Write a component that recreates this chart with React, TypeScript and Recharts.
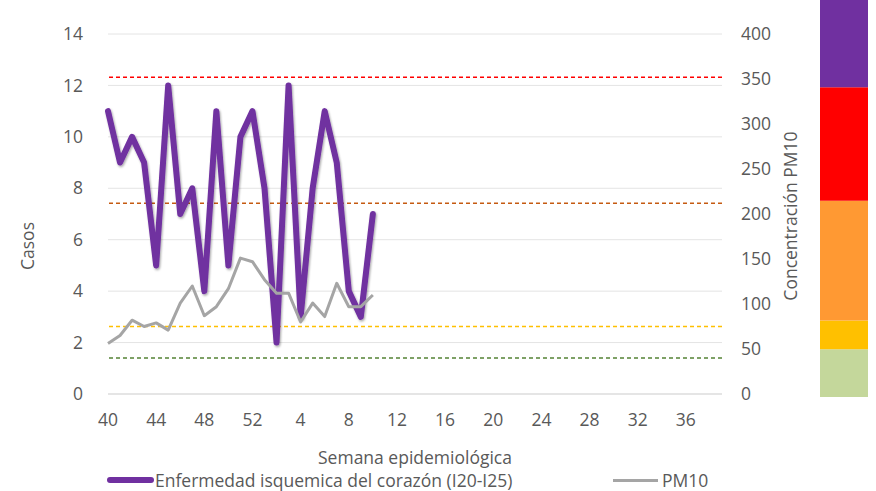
import React from 'react';
import { LineChart, Line, BarChart, Bar, XAxis, YAxis, CartesianGrid, ReferenceLine, Legend } from 'recharts';

// semanas epidemiológicas 40..52 y 1..39
const weeks = [
  '40', '41', '42', '43', '44', '45', '46', '47', '48', '49', '50', '51', '52',
  '1', '2', '3', '4', '5', '6', '7', '8', '9', '10', '11', '12', '13', '14', '15',
  '16', '17', '18', '19', '20', '21', '22', '23', '24', '25', '26', '27', '28', '29',
  '30', '31', '32', '33', '34', '35', '36', '37', '38', '39',
];

// casos por semana (eje izquierdo)
const casos = [11, 9, 10, 9, 5, 12, 7, 8, 4, 11, 5, 10, 11, 8, 2, 12, 3, 8, 11, 9, 4, 3, 7];
// concentración PM10 (eje derecho)
const pm10 = [56, 65, 82, 75, 79, 71, 101, 120, 87, 97, 117, 151, 147, 127, 112, 112, 80, 101, 86, 123, 97, 97, 110];

const leftTicks = [0, 2, 4, 6, 8, 10, 12, 14];
const rightTicks = [0, 50, 100, 150, 200, 250, 300, 350, 400];

// umbrales (eje PM10)
const thresholdValues = [352, 212, 75, 40];
const thresholdColors = ['#FF0000', '#C55A11', '#FFC000', '#548235'];

// barra de colores del índice
const bandKeys = ['buena', 'aceptable', 'sensibles', 'danina', 'muyDanina'];
const bandSizes = [53, 32, 133, 126, 97];
const bandColors = ['#C4D79B', '#FFC000', '#FF9933', '#FF0000', '#7030A0'];

const chartData = weeks.map((w, i) => ({
  week: w,
  casos: i < casos.length ? casos[i] : null,
  pm10: i < pm10.length ? pm10[i] : null,
}));

const bandRow = [
  bandKeys.reduce((row: Record<string, number | string>, k, i) => {
    row[k] = bandSizes[i];
    return row;
  }, { name: 'ICA' }),
];

const TEXT = '#595959';
const FS = 17.5;

const ChartLegend = () => (
  <div style={{ position: 'relative', width: 876, height: 24, fontSize: FS, color: TEXT, lineHeight: '24px' }}>
    <div style={{ position: 'absolute', left: 107, top: 9, width: 47, height: 6, borderRadius: 3, background: '#7030A0' }} />
    <span style={{ position: 'absolute', left: 155, top: 0, whiteSpace: 'nowrap' }}>
      Enfermedad isquemica del corazón (I20-I25)
    </span>
    <div style={{ position: 'absolute', left: 613, top: 11, width: 45, height: 3, background: '#A5A5A5' }} />
    <span style={{ position: 'absolute', left: 662, top: 0, whiteSpace: 'nowrap' }}>PM10</span>
  </div>
);

export default function App() {
  return (
    <div style={{ position: 'absolute', left: 0, top: 0, width: 876, height: 491, background: '#fff', fontFamily: '"Open Sans", sans-serif' }}>
      <LineChart width={876} height={491} data={chartData} margin={{ top: 34, right: 0, bottom: 0, left: 0 }}>
        <defs>
          <filter id="lineShadow" x="-10%" y="-10%" width="120%" height="120%">
            <feDropShadow dx="1" dy="1.5" stdDeviation="1.2" floodColor="#000" floodOpacity="0.35" />
          </filter>
        </defs>
        <CartesianGrid yAxisId="left" vertical={false} stroke="#e4e4e4" />
        <XAxis
          dataKey="week"
          interval={3}
          height={97}
          tickSize={0}
          tickMargin={20}
          axisLine={{ stroke: '#d9d9d9' }}
          tick={{ fill: TEXT, fontSize: FS }}
          label={{ value: 'Semana epidemiológica', position: 'insideTop', offset: 58, fill: TEXT, fontSize: FS }}
        />
        <YAxis
          yAxisId="left"
          width={108}
          domain={[0, 14]}
          ticks={leftTicks}
          axisLine={false}
          tickLine={false}
          tickSize={0}
          tickMargin={25}
          tick={{ fill: TEXT, fontSize: FS }}
          label={() => (
            <text x={27} y={246} transform="rotate(-90 27 246)" textAnchor="middle" dominantBaseline="central" fill={TEXT} fontSize={FS}>
              Casos
            </text>
          )}
        />
        <YAxis
          yAxisId="right"
          orientation="right"
          width={154}
          domain={[0, 400]}
          ticks={rightTicks}
          axisLine={false}
          tickLine={false}
          tickSize={0}
          tickMargin={19}
          tick={{ fill: TEXT, fontSize: FS }}
          label={() => (
            <text x={790} y={216} transform="rotate(-90 790 216)" textAnchor="middle" dominantBaseline="central" fill={TEXT} fontSize={FS}>
              Concentración PM10
            </text>
          )}
        />
        {thresholdValues.map((v, i) => (
          <ReferenceLine key={v} yAxisId="right" y={v} stroke={thresholdColors[i]} strokeWidth={1.5} strokeDasharray="4 3" />
        ))}
        <Line
          yAxisId="left"
          type="linear"
          dataKey="casos"
          stroke="#7030A0"
          strokeWidth={6}
          strokeLinejoin="round"
          strokeLinecap="round"
          dot={false}
          activeDot={false}
          filter="url(#lineShadow)"
          isAnimationActive={false}
        />
        <Line
          yAxisId="right"
          type="linear"
          dataKey="pm10"
          stroke="#A5A5A5"
          strokeWidth={3}
          strokeLinejoin="round"
          dot={false}
          activeDot={false}
          isAnimationActive={false}
        />
        <Legend
          layout="horizontal"
          verticalAlign="middle"
          align="center"
          wrapperStyle={{ left: 0, top: 468, width: 876, height: 24 }}
          content={() => <ChartLegend />}
        />
      </LineChart>
      <div style={{ position: 'absolute', left: 820, top: 0 }}>
        <BarChart width={48} height={397} data={bandRow} margin={{ top: 0, right: 0, bottom: 0, left: 0 }} barCategoryGap={0}>
          <XAxis dataKey="name" hide />
          <YAxis hide domain={[0, 441]} ticks={[0, 441]} />
          {bandKeys.map((k, i) => (
            <Bar key={k} dataKey={k} stackId="ica" fill={bandColors[i]} isAnimationActive={false} />
          ))}
        </BarChart>
      </div>
    </div>
  );
}
